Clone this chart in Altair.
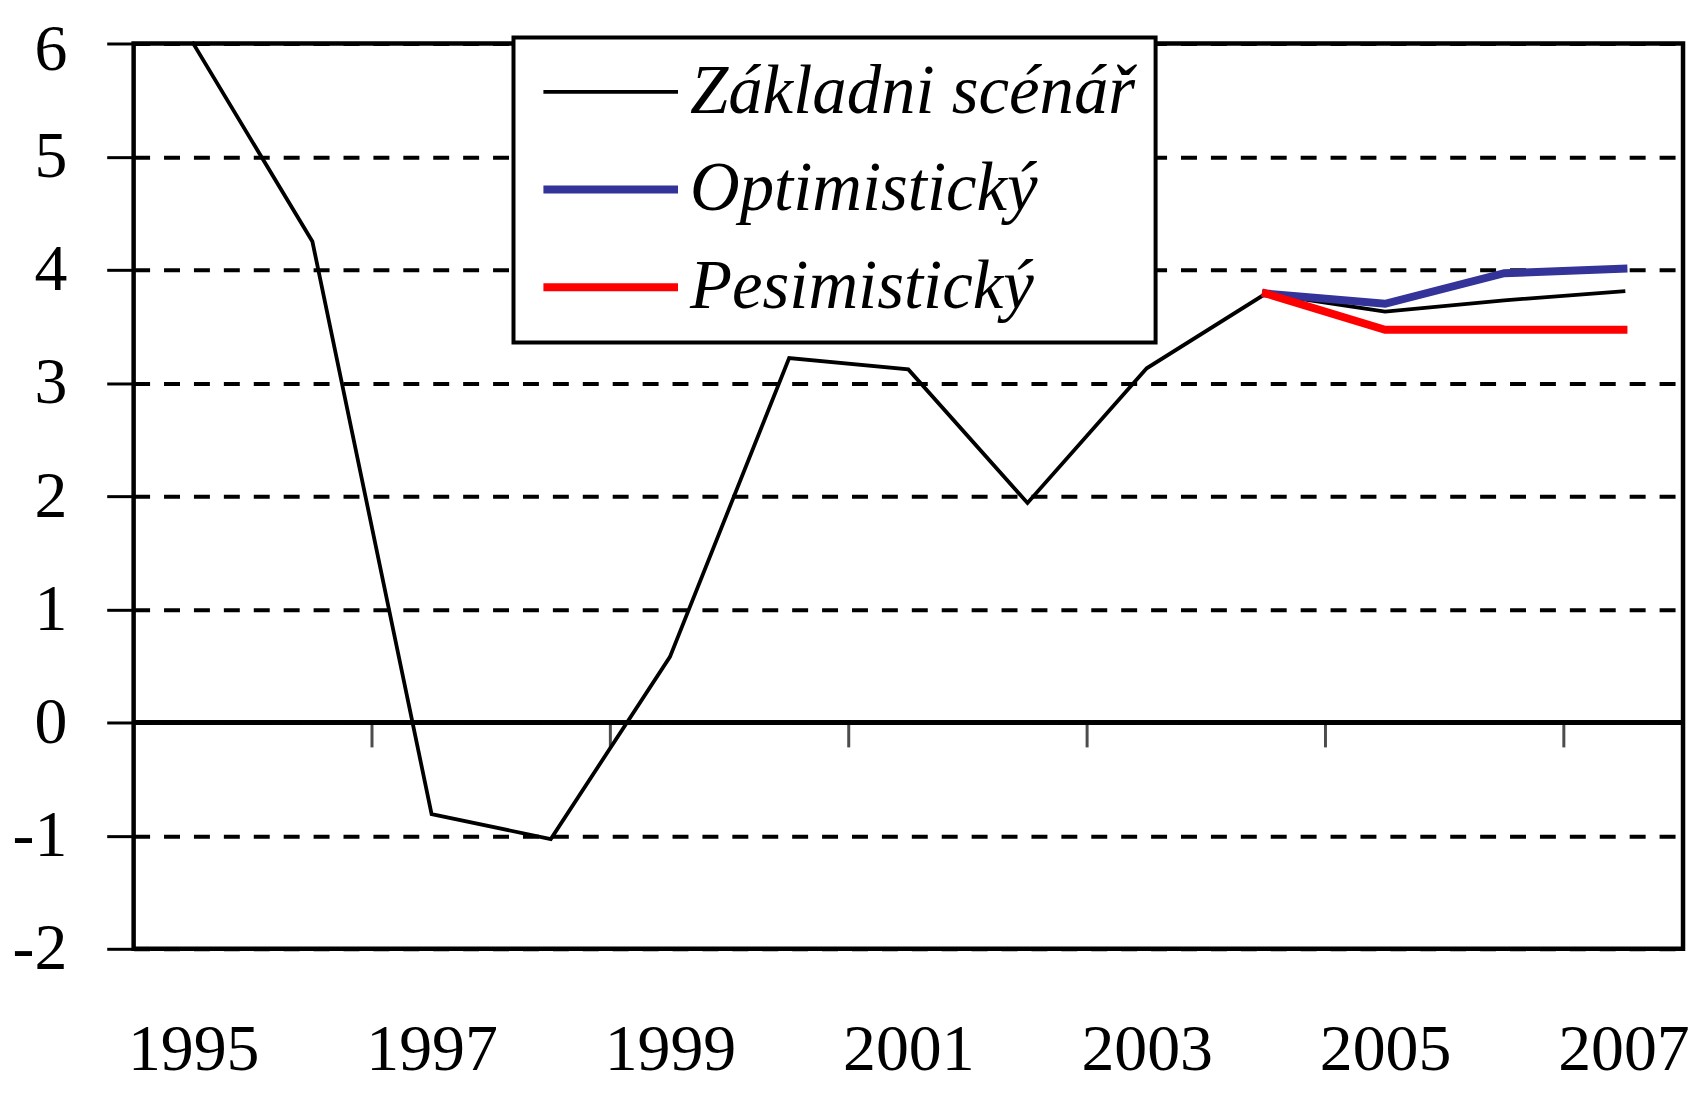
import altair as alt
import pandas as pd

# ---- data ----
years = [1995, 1996, 1997, 1998, 1999, 2000, 2001, 2002, 2003, 2004, 2005, 2006, 2007]
zakladni = [6.0, 4.25, -0.81, -1.03, 0.58, 3.22, 3.12, 1.94, 3.13, 3.79, 3.63, 3.73, 3.81]
scenario_years = [2004, 2005, 2006, 2007]
optimisticky = [3.79, 3.70, 3.97, 4.01]
pesimisticky = [3.79, 3.47, 3.47, 3.47]

series_names = ["Základni scénář", "Optimistický", "Pesimistický"]
series_colors = ["#000000", "#333399", "#FF0000"]
series_widths = [3.8, 8, 8]

y_ticks = [-2, -1, 0, 1, 2, 3, 4, 5, 6]
x_label_years = years[::2]
x_tick_positions = [y + 0.5 for y in years[1::2]]

rows = []
for r, v in zip(years, zakladni):
    rows.append({"rok": r, "hodnota": v, "serie": series_names[0]})
for r, v in zip(scenario_years, optimisticky):
    rows.append({"rok": r, "hodnota": v, "serie": series_names[1]})
for r, v in zip(scenario_years, pesimisticky):
    rows.append({"rok": r, "hodnota": v, "serie": series_names[2]})
df = pd.DataFrame(rows)
df_ticks = pd.DataFrame({"rok": x_tick_positions, "hodnota": [0] * len(x_tick_positions)})

FONT = "Liberation Serif"

x_scale = alt.Scale(domain=[1994.5, 2007.5], nice=False, zero=False)
y_scale = alt.Scale(domain=[-2, 6], nice=False, zero=False)

x_axis = alt.Axis(values=x_label_years, format="d", labelFont=FONT, labelFontSize=66,
                  labelColor="black", ticks=False, tickSize=0, domain=False, grid=False,
                  labelPadding=69, title=None, labelAngle=0, labelFlush=False,
                  labelOverlap=False)
y_axis = alt.Axis(values=y_ticks, labelExpr="'' + datum.value", labelFont=FONT,
                  labelFontSize=66, labelColor="black", tickSize=27, tickWidth=3,
                  tickColor="black", domain=False, grid=True, gridColor="black",
                  gridWidth=4, gridDash=[16, 14], labelPadding=40, title=None,
                  labelFlush=False, labelOverlap=False,
                  labelOffset={"condition": {"test": "datum.value === 6", "value": 6},
                               "value": 0})

X = alt.X("rok:Q", scale=x_scale, axis=x_axis)
Y = alt.Y("hodnota:Q", scale=y_scale, axis=y_axis)

legend = alt.Legend(title=None, orient="none", legendX=381, legendY=-6,
                    symbolType="M-4,0H4", symbolSize=1139, symbolOffset=43,
                    labelFont=FONT, labelFontSize=69, labelFontStyle="italic",
                    labelColor="black", labelLimit=1000, labelOffset=45,
                    rowPadding=28, padding=20,
                    strokeColor="black", fillColor="white")

color = alt.Color("serie:N", scale=alt.Scale(domain=series_names, range=series_colors),
                  legend=legend)
swidth = alt.StrokeWidth("serie:N",
                         scale=alt.Scale(type="ordinal", domain=series_names, range=series_widths),
                         legend=legend)

zero_line = alt.Chart(df_ticks).mark_rule(color="black", strokeWidth=4).encode(
    y=alt.Y("hodnota:Q", scale=y_scale, axis=y_axis))

ticks = alt.Chart(df_ticks).mark_tick(orient="vertical", size=25, thickness=3,
                                      yOffset=12.5, color="black").encode(x=X, y=Y)

layers = [zero_line, ticks]
for name in series_names:
    layers.append(
        alt.Chart(df).transform_filter(alt.datum.serie == name)
        .mark_line(strokeCap="square", strokeJoin="miter")
        .encode(x=X, y=Y, color=color, strokeWidth=swidth)
    )

chart = alt.layer(*layers).properties(
    width=1554, height=908,
    autosize=alt.AutoSizeParams(type="none"),
    padding={"left": 126, "top": 34, "right": 8, "bottom": 135},
    background="white",
).configure_view(stroke="black", strokeWidth=4.5).configure_legend(strokeWidth=4)

chart.save("out.html", embed_options={"renderer": "svg", "actions": False})
